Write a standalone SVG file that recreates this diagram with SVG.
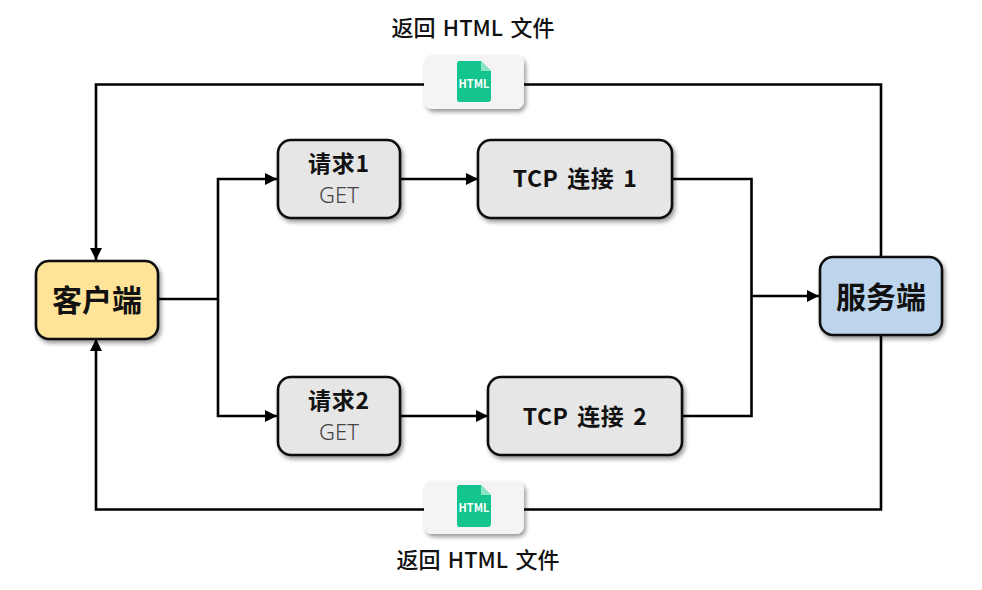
<svg xmlns="http://www.w3.org/2000/svg" width="982" height="590" viewBox="0 0 982 590">
<style>
text{font-family:"Noto Sans CJK SC","Noto Sans",sans-serif;text-anchor:middle;fill:#111}
.n{stroke:#111;stroke-width:2.6}
.g{fill:#e6e6e6}
.c{fill:none;stroke:#000;stroke-width:2.6}
.h{fill:#f4f4f4}
.lb{font-size:22px;font-weight:500;word-spacing:2.500px}
.b{font-size:23px;font-weight:700;letter-spacing:.8px}
.t{word-spacing:3.500px;letter-spacing:.4px}
.get{font-family:"Noto Sans",sans-serif;font-size:22px;font-weight:300;fill:#444}
.big{font-size:30px;font-weight:700}
.ic{fill:#14c48e}
.f{fill:#8de3c6}
.it{font-size:11px;font-weight:700;fill:#fff}
</style>
<defs>
<filter id="s" x="-20%" y="-20%" width="140%" height="140%"><feDropShadow dx="2" dy="3" stdDeviation="2" flood-color="#000" flood-opacity=".4"/></filter>
<marker id="a" markerUnits="userSpaceOnUse" markerWidth="13" markerHeight="13" refX="12" refY="6.500" orient="auto"><path d="M0 0.500L12 6.500L0 12.500Z" fill="#000"/></marker>
</defs>
<rect width="982" height="590" fill="#fff"/>
<g id="connectors">
<path class="c" d="M424 84.500H96V260" marker-end="url(#a)"/>
<path class="c" d="M881 257V84.500H524"/>
<path class="c" d="M424 509.500H96V339" marker-end="url(#a)"/>
<path class="c" d="M881 335V509.500H524"/>
<path class="c" d="M159 299H218"/>
<path class="c" d="M218 299V179H277" marker-end="url(#a)"/>
<path class="c" d="M218 299V416H277" marker-end="url(#a)"/>
<path class="c" d="M400 179H478" marker-end="url(#a)"/>
<path class="c" d="M400 416H488" marker-end="url(#a)"/>
<path class="c" d="M673 179H751.500V416H683"/>
<path class="c" d="M751.500 296H819" marker-end="url(#a)"/>
</g>
<g id="client"><rect class="n" x="36" y="261" width="122" height="78" rx="13" fill="#fee398" filter="url(#s)"/><text class="big" x="97" y="311">客户端</text></g>
<g id="server"><rect class="n" x="820" y="257" width="122" height="78" rx="13" fill="#bcd5ed" filter="url(#s)"/><text class="big" x="881" y="308">服务端</text></g>
<g id="req1"><rect class="n g" x="278" y="140" width="122" height="78" rx="13" filter="url(#s)"/><text class="b" x="339" y="172">请求1</text><text class="get" x="339" y="203">GET</text></g>
<g id="req2"><rect class="n g" x="278" y="377" width="122" height="78" rx="13" filter="url(#s)"/><text class="b" x="339" y="409">请求2</text><text class="get" x="339" y="440">GET</text></g>
<g id="tcp1"><rect class="n g" x="478" y="140" width="194" height="78" rx="13" filter="url(#s)"/><text class="b t" x="575" y="187">TCP 连接 1</text></g>
<g id="tcp2"><rect class="n g" x="488" y="377" width="194" height="78" rx="13" filter="url(#s)"/><text class="b t" x="585" y="425">TCP 连接 2</text></g>
<g id="file-top"><rect class="h" x="424" y="55" width="100" height="54" rx="8" filter="url(#s)"/><path class="ic" d="M459 61H481L491 71V99Q491 102 488 102H459Q457 102 457 99V64Q457 61 459 61Z"/><path class="f" d="M481 61L491 71H481Z"/><text class="it" x="474" y="88">HTML</text></g>
<g id="file-bottom"><rect class="h" x="424" y="481" width="100" height="53" rx="8" filter="url(#s)"/><path class="ic" d="M459 485H481L491 495V523Q491 527 488 527H459Q457 527 457 523V488Q457 485 459 485Z"/><path class="f" d="M481 485L491 495H481Z"/><text class="it" x="474" y="512">HTML</text></g>
<text class="lb" x="473" y="36">返回 HTML 文件</text>
<text class="lb" x="478" y="568">返回 HTML 文件</text>
</svg>
